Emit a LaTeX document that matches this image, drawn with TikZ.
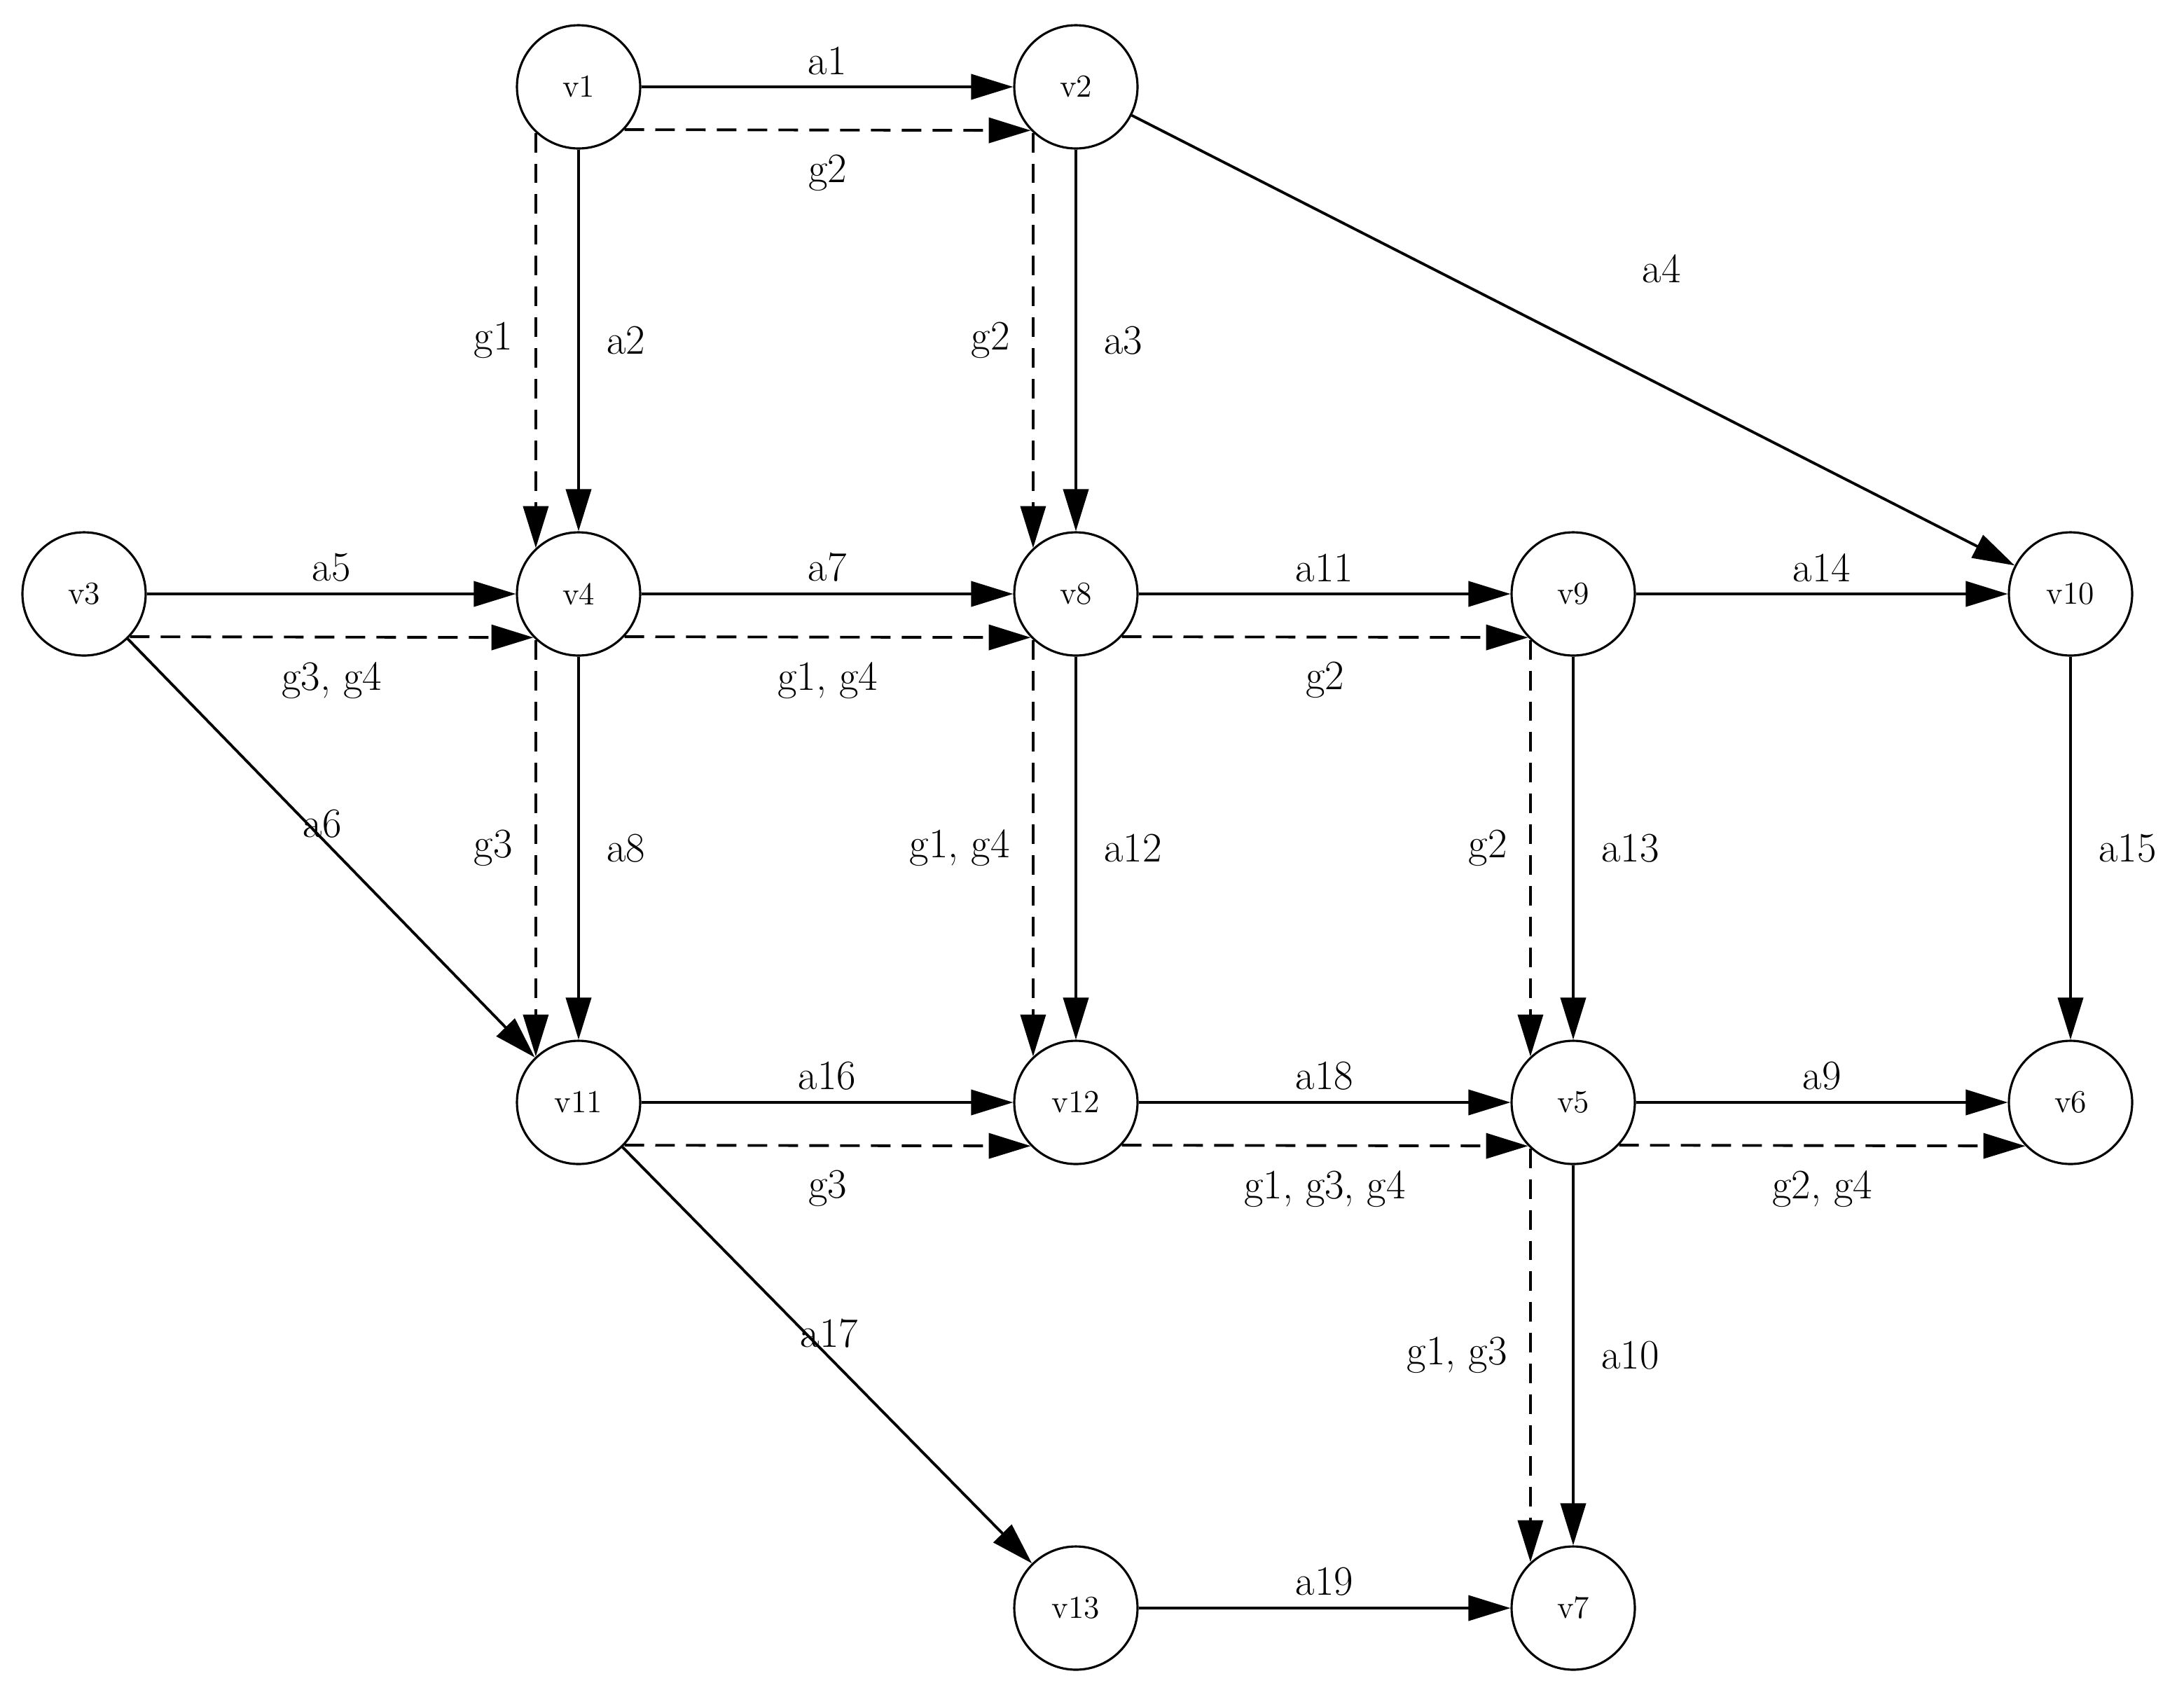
\documentclass[tikz,border=0pt]{standalone}
\usetikzlibrary{arrows.meta}
\begin{document}
\begin{tikzpicture}[x=0.02cm,y=-0.02cm,
  v/.style={circle,draw,line width=0.9pt,minimum size=1.76cm,inner sep=0pt,font=\fontsize{13}{15}\selectfont},
  e/.style={line width=1.1pt,-{Triangle[length=0.6cm,width=0.36cm]}},
  d/.style={e,dash pattern=on 0.28cm off 0.16cm},
  lab/.style={font=\fontsize{17}{20}\selectfont,inner sep=1pt}]
\useasboundingbox (0,0) rectangle (1559,1201);
\node[v] (v1) at (413,62) {v1};
\node[v] (v2) at (768,62) {v2};
\node[v] (v3) at (60,424) {v3};
\node[v] (v4) at (413,424) {v4};
\node[v] (v8) at (768,424) {v8};
\node[v] (v9) at (1123,424) {v9};
\node[v] (v10) at (1478,424) {v10};
\node[v] (v11) at (413,787) {v11};
\node[v] (v12) at (768,787) {v12};
\node[v] (v5) at (1123,787) {v5};
\node[v] (v6) at (1478,787) {v6};
\node[v] (v13) at (768,1148) {v13};
\node[v] (v7) at (1123,1148) {v7};
% solid horizontal
\foreach \a/\b/\t in {v1/v2/a1,v3/v4/a5,v4/v8/a7,v8/v9/a11,v9/v10/a14,v11/v12/a16,v12/v5/a18,v5/v6/a9,v13/v7/a19}
  \draw[e] (\a) -- node[lab,midway,above=0.12cm]{\t} (\b);
% solid vertical
\foreach \a/\b/\t in {v1/v4/a2,v2/v8/a3,v4/v11/a8,v8/v12/a12,v9/v5/a13,v10/v6/a15,v5/v7/a10}
  \draw[e] (\a) -- node[lab,midway,right=0.35cm]{\t} (\b);
% dashed horizontal
\foreach \a/\b/\t in {v1/v2/g2,v3/v4/{g3, g4},v4/v8/{g1, g4},v8/v9/g2,v11/v12/g3,v12/v5/{g1, g3, g4},v5/v6/{g2, g4}}
  \draw[d] (\a.-43.3) -- node[lab,midway,below=0.3cm]{\t} (\b.-136.7);
% dashed vertical
\foreach \a/\b/\t in {v1/v4/g1,v2/v8/g2,v4/v11/g3,v8/v12/{g1, g4},v9/v5/g2,v5/v7/{g1, g3}}
  \draw[d] (\a.-133.3) -- node[lab,midway,left=0.28cm]{\t} (\b.133.3);
% diagonals
\draw[e] (v2) -- (v10);
\node[lab] (la4) at (1186,192) {a4};
\draw[e] (v3) -- (v11);
\node[lab] (la6) at (230,588) {a6};
\draw[e] (v11) -- (v13);
\node[lab] (la17) at (592,952) {a17};
\end{tikzpicture}
\end{document}
